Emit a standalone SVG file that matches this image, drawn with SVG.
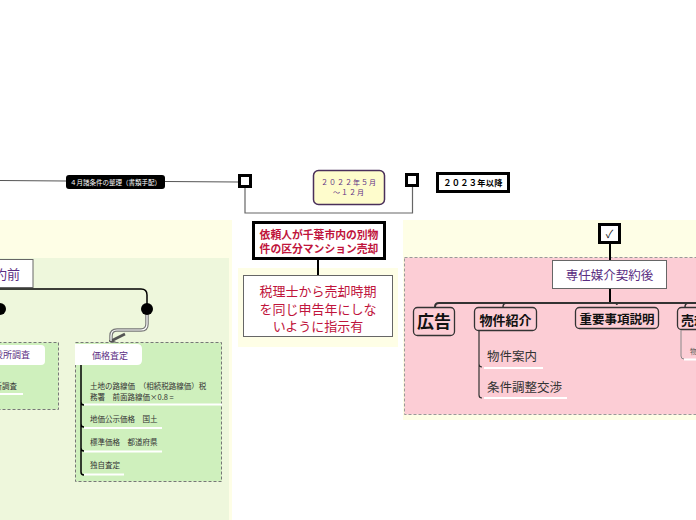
<svg xmlns="http://www.w3.org/2000/svg" width="696" height="520" viewBox="0 0 696 520">
<style>
text{font-family:"Noto Sans CJK JP","Noto Sans",sans-serif}
.sq{fill:#fff;stroke:#000;stroke-width:3}
.conn{fill:none;stroke:#000;stroke-width:1.5}
.wl{stroke:#fff;stroke-width:2}
.pur{fill:#5a2d82}
.red{fill:#c0143c}
.item{fill:#333;font-size:7.5px}
.pitem{fill:#333;font-size:12.5px}
.pbox{fill:#fccdd5;stroke:#333;stroke-width:1.3}
</style>
<defs>
<marker id="ar" viewBox="0 0 10 10" refX="5" refY="9" markerWidth="5" markerHeight="5" orient="auto"><path d="M1,1 L5,9 L9,1" fill="none" stroke="#555" stroke-width="1.5"/></marker>
</defs>
<rect width="696" height="520" fill="#fff"/>
<rect x="0" y="220" width="232" height="300" fill="#fefee6"/>
<rect x="0" y="258" width="229" height="262" fill="#eef7dc"/>
<rect x="238" y="268" width="160" height="79" fill="#fefee6"/>
<rect x="403" y="220" width="293" height="200" fill="#fefee6"/>
<rect x="404.5" y="257.5" width="295" height="157" fill="#fccdd5" stroke="#999" stroke-dasharray="3,2"/>

<g id="connectors">
<path d="M0,180.5 L66,181" stroke="#555" stroke-width="1"/>
<path d="M165,181.5 L238,182" stroke="#555" stroke-width="1"/>
<path d="M245,188 V213 H412.5 V187" stroke="#666" stroke-width="1.2" fill="none"/>
<path d="M318,260 V276" stroke="#000" stroke-width="2"/>
<path d="M610,244 V260" stroke="#000" stroke-width="2"/>
<path d="M610,289 V303" stroke="#000" stroke-width="2"/>
<path d="M435,307 Q435,303 439,303 H696" fill="none" stroke="#333" stroke-width="2"/>
<path d="M503,307 Q503,303 507,303" fill="none" stroke="#333" stroke-width="1.5"/>
<path d="M617,305 Q617,303 613,303" fill="none" stroke="#333" stroke-width="1.5"/>
<path d="M685,307 Q685,303 689,303" fill="none" stroke="#333" stroke-width="1.5"/>
<path d="M0,289 H141 Q147,289 147,295 V309" class="conn"/>
<path d="M147,309 V324 Q147,330 141,330 H117 Q111,330 111,336 V341" fill="none" stroke="#777" stroke-width="3.5" marker-end="url(#ar)"/>
<path d="M147,309 V324 Q147,330 141,330 H117 Q111,330 111,336 V341" fill="none" stroke="#fff" stroke-width="1.2"/>
<circle cx="147" cy="309" r="6" fill="#000"/>
<circle cx="0" cy="309" r="6" fill="#000"/>
</g>

<g id="n-april">
<rect x="66" y="175" width="99" height="14" rx="3" fill="#000"/>
<text x="70" y="184.5" font-size="6.5" fill="#fff">４月諸条件の整理（書類手配）</text>
</g>
<g id="n-sq1"><rect x="239.5" y="175.5" width="11" height="11" class="sq"/></g>
<g id="n-sq2"><rect x="406.5" y="174.5" width="11" height="11" class="sq"/></g>
<g id="n-2022">
<rect x="313.5" y="170.5" width="71" height="34" rx="5" fill="#fefccc" stroke="#4a2f5a" stroke-width="1.5"/>
<text x="349" y="185" font-size="7" text-anchor="middle" class="pur" letter-spacing="1">２０２２年５月</text>
<text x="349" y="195" font-size="7" text-anchor="middle" class="pur" letter-spacing="1">～１２月</text>
</g>
<g id="n-2023">
<rect x="437.5" y="173.5" width="71" height="18" fill="#fff" stroke="#000" stroke-width="3"/>
<text x="473" y="186" font-size="8.2" font-weight="bold" text-anchor="middle" fill="#000" letter-spacing="0.3">２０２３年以降</text>
</g>

<g id="n-pre">
<rect x="-5" y="259.5" width="38" height="28" fill="#fff" stroke="#666"/>
<text x="20" y="279" font-size="13" text-anchor="end" class="pur">媒介契約前</text>
</g>
<g id="n-yakusho">
<rect x="-6.5" y="342.5" width="65" height="67" fill="#cff0bd" stroke="#777" stroke-dasharray="3,2"/>
<rect x="-6" y="345" width="51" height="20" rx="4" fill="#fff"/>
<text x="30" y="358" font-size="9" text-anchor="end" class="pur">役所調査</text>
<text x="17" y="389" font-size="7.5" text-anchor="end" fill="#333">役所調査</text>
<path d="M0,394 H23" class="wl"/>
</g>
<g id="n-kakaku">
<rect x="75.5" y="342.5" width="146" height="139" fill="#cff0bd" stroke="#777" stroke-dasharray="3,2"/>
<path d="M75,344 H137 Q142,344 142,349 V360 Q142,365 137,365 H75 Z" fill="#fff"/>
<text x="92" y="359" font-size="9" class="pur">価格査定</text>
<path d="M81,365 V472 Q81,475 84,475 M81,402 Q81,405 84,405 M81,424 Q81,427 84,427 M81,448 Q81,451 84,451" fill="none" stroke="#000" stroke-width="1.5"/>
<text x="90" y="389" class="item">土地の路線価　（相続税路線価）税</text>
<text x="90" y="400" class="item">務署　前面路線価×0.8 =</text>
<path d="M84,404.5 H222" class="wl"/>
<text x="90" y="422" class="item">地価公示価格　国土</text>
<path d="M84,428 H162" class="wl"/>
<text x="90" y="445" class="item">標準価格　都道府県</text>
<path d="M84,451.5 H162" class="wl"/>
<text x="90" y="468" class="item">独自査定</text>
<path d="M84,474.5 H124" class="wl"/>
</g>

<g id="n-irai">
<rect x="253.5" y="222.5" width="131" height="36" fill="#fff" stroke="#000" stroke-width="3"/>
<text x="319" y="239" font-size="10.8" font-weight="bold" text-anchor="middle" class="red">依頼人が千葉市内の別物</text>
<text x="319" y="253" font-size="10.8" font-weight="bold" text-anchor="middle" class="red">件の区分マンション売却</text>
</g>
<g id="n-zeirishi">
<rect x="243.5" y="275.5" width="149" height="61" fill="#fff" stroke="#666"/>
<text x="318" y="296" font-size="13" text-anchor="middle" class="red">税理士から売却時期</text>
<text x="318" y="313.5" font-size="13" text-anchor="middle" class="red">を同じ申告年にしな</text>
<text x="318" y="331" font-size="13" text-anchor="middle" class="red">いように指示有</text>
</g>

<g id="n-check">
<rect x="599.5" y="224.5" width="20" height="18" fill="#fff" stroke="#000" stroke-width="3"/>
<text x="609.5" y="238" font-size="11" text-anchor="middle" fill="#222">✓</text>
</g>
<g id="n-sennin">
<rect x="552.5" y="260.5" width="114" height="28" fill="#fff" stroke="#666"/>
<text x="609.5" y="280" font-size="12.5" text-anchor="middle" class="pur">専任媒介契約後</text>
</g>
<g id="n-koukoku">
<rect x="413.5" y="307.5" width="41" height="28" rx="4" class="pbox"/>
<text x="434" y="328" font-size="17" font-weight="bold" text-anchor="middle" fill="#111">広告</text>
</g>
<g id="n-bukken">
<rect x="474.5" y="307.5" width="62" height="23" rx="4" class="pbox"/>
<text x="505.5" y="324.5" font-size="13" font-weight="bold" text-anchor="middle" fill="#111">物件紹介</text>
<path d="M479,331 V395 Q479,398 482,398 M479,364 Q479,367 482,367" fill="none" stroke="#333" stroke-width="1.2"/>
<text x="487" y="361" class="pitem">物件案内</text>
<path d="M484,368 H543" class="wl"/>
<text x="487" y="392" class="pitem">条件調整交渉</text>
<path d="M484,398 H567" class="wl"/>
</g>
<g id="n-juyo">
<rect x="575.5" y="307.5" width="83" height="21" rx="4" class="pbox"/>
<text x="617" y="323.5" font-size="12.5" font-weight="bold" text-anchor="middle" fill="#111">重要事項説明</text>
</g>
<g id="n-uri">
<rect x="677.5" y="307.5" width="30" height="22" rx="4" class="pbox"/>
<text x="681" y="324.5" font-size="13" font-weight="bold" fill="#111">売却</text>
<path d="M681,330 V356 Q681,359 684,359" fill="none" stroke="#888" stroke-width="1"/>
<text x="690" y="354" font-size="7" fill="#555">物件</text>
<path d="M684,359.5 H696" class="wl"/>
</g>
</svg>
